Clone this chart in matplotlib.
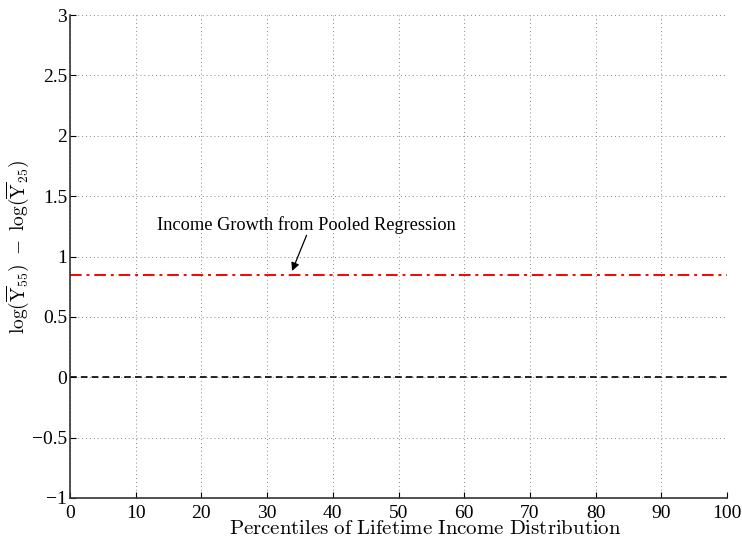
import matplotlib
matplotlib.use("Agg")
import matplotlib.pyplot as plt
import numpy as np

plt.rcParams['mathtext.fontset'] = 'cm'
plt.rcParams['font.family'] = ['Liberation Serif', 'DejaVu Serif']

# data
pct = [0, 100]
pooled_growth = [0.85, 0.85]
zero_line = [0, 0]
xticks = list(range(0, 101, 10))
yticks = [-1, -0.5, 0, 0.5, 1, 1.5, 2, 2.5, 3]
ytick_labels = ['\u22121', '\u22120.5', '0', '0.5', '1', '1.5', '2', '2.5', '3']

fig = plt.figure(figsize=(7.42, 5.4), dpi=100)
ax = fig.add_axes([70/742, 42/540, 657/742, 483/540])

ax.plot(pct, pooled_growth, color='red', linestyle=(0, (6, 2.5, 1.5, 2.5)), linewidth=1.4)
ax.plot(pct, zero_line, color='black', linestyle=(0, (4, 2.5)), linewidth=1.2)

ax.text(36, 1.26, 'Income Growth from Pooled Regression', ha='center', va='center', fontsize=13.2)
ax.annotate('', xy=(33.8, 0.88), xytext=(36, 1.175),
            arrowprops=dict(arrowstyle='-|>', color='black', lw=0.9, mutation_scale=12,
                            shrinkA=0, shrinkB=0))

ax.set_xlim(0, 100)
ax.set_ylim(-1, 3)
ax.set_xticks(xticks)
ax.set_yticks(yticks)
ax.set_yticklabels(ytick_labels)
ax.tick_params(direction='in', length=4, labelsize=14, width=0.8)
ax.tick_params(axis='x', pad=5)
ax.tick_params(axis='y', pad=2)
ax.grid(True, linestyle=(0, (1, 3)), color='#888888', linewidth=0.7)
for s in ['top', 'right']:
    ax.spines[s].set_visible(False)
for s in ['left', 'bottom']:
    ax.spines[s].set_linewidth(1.2)
    ax.spines[s].set_color('#333333')

ax.set_xlabel(r'$\mathrm{Percentiles\ of\ Lifetime\ Income\ Distribution}$',
              fontsize=15, va='center')
ax.xaxis.set_label_coords(0.54, -0.066)
ax.set_ylabel(r'$\log(\overline{\mathrm{Y}}_{55})\ -\ \log(\overline{\mathrm{Y}}_{25})$', fontsize=14, va='center')
ax.yaxis.set_label_coords(-0.08, 0.52)

fig.savefig('out.png', dpi=100)
